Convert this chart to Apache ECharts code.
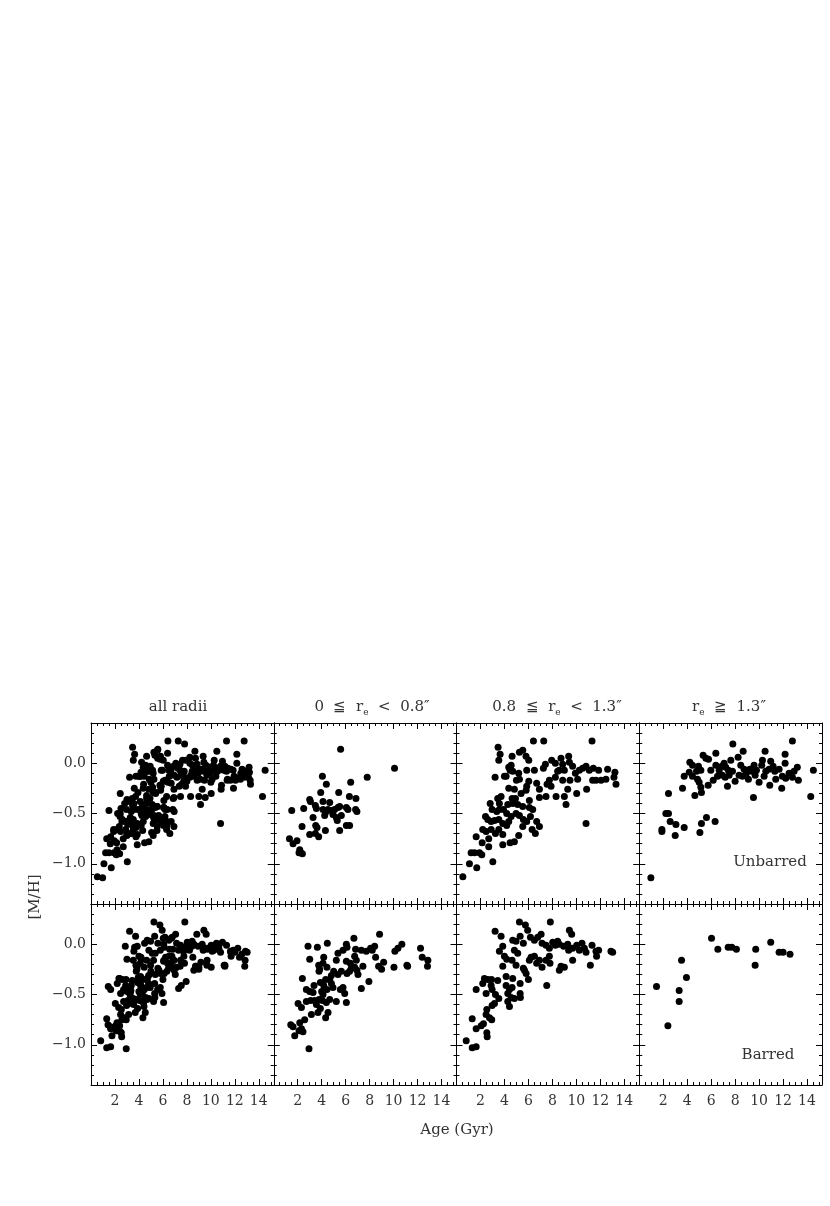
<!DOCTYPE html>
<html>
<head>
<meta charset="utf-8">
<script src="https://cdn.jsdelivr.net/npm/echarts@6/dist/echarts.min.js"></script>
<style>
  html, body { margin: 0; padding: 0; background: #fff; }
  #chart { width: 830px; height: 1206px; }
</style>
</head>
<body>
<div id="chart"></div>
<script>
// [age (Gyr), [M/H]]; "all radii" is the union of the three radial bins
const unbarredSmall = [
  [5.58,0.14],[10.08,-0.05],[7.8,-0.14],[4.06,-0.13],[4.39,-0.21],[6.42,-0.19],[3.92,-0.29],[5.42,-0.29],
  [3.0,-0.36],[3.06,-0.38],[6.31,-0.33],[6.86,-0.35],[4.11,-0.38],[4.67,-0.39],[3.47,-0.42],[3.56,-0.45],
  [1.5,-0.47],[2.5,-0.45],[4.11,-0.46],[4.39,-0.48],[4.53,-0.46],[4.81,-0.47],[5.08,-0.46],[5.36,-0.44],
  [5.5,-0.43],[6.06,-0.44],[6.19,-0.46],[6.83,-0.46],[6.94,-0.48],[4.25,-0.52],[4.94,-0.51],[5.22,-0.54],
  [5.64,-0.52],[3.28,-0.54],[5.3,-0.57],[2.36,-0.63],[3.5,-0.62],[3.61,-0.64],[6.06,-0.62],[6.33,-0.62],
  [4.31,-0.67],[5.5,-0.67],[3.0,-0.71],[3.47,-0.70],[3.75,-0.73],[1.31,-0.75],[1.61,-0.80],[1.94,-0.77],
  [2.17,-0.86],[2.25,-0.89],[2.39,-0.90],[2.11,-0.89]
];
const unbarredMid = [
  [6.42,0.22],[7.28,0.22],[11.31,0.22],[3.47,0.16],[3.64,0.09],[3.53,0.03],[5.25,0.11],[5.53,0.13],
  [5.8,0.07],[6.03,0.03],[4.64,0.07],[4.56,-0.02],[4.36,-0.04],[4.47,-0.07],[4.69,-0.08],[4.0,-0.13],
  [3.22,-0.14],[5.19,-0.10],[5.25,-0.16],[5.86,-0.07],[6.5,-0.07],[7.25,-0.05],[7.42,-0.01],[7.94,0.03],
  [8.25,0.0],[8.72,0.05],[8.86,-0.01],[9.36,0.07],[9.42,0.01],[8.58,-0.07],[8.44,-0.08],[9.0,-0.07],
  [9.69,-0.03],[9.92,-0.10],[10.25,-0.07],[10.53,-0.05],[10.81,-0.03],[11.08,-0.07],[11.42,-0.05],[11.86,-0.07],
  [12.61,-0.06],[13.22,-0.09],[13.14,-0.14],[13.31,-0.21],[12.47,-0.16],[12.06,-0.17],[11.64,-0.17],[11.36,-0.17],
  [10.11,-0.16],[9.47,-0.17],[8.86,-0.17],[8.25,-0.14],[7.75,-0.17],[7.56,-0.21],[7.89,-0.23],[6.92,-0.26],
  [6.03,-0.18],[5.86,-0.23],[5.81,-0.27],[6.69,-0.20],[10.86,-0.26],[10.03,-0.30],[9.28,-0.26],[9.0,-0.33],
  [9.14,-0.41],[8.31,-0.33],[7.47,-0.33],[6.92,-0.34],[6.08,-0.37],[5.39,-0.30],[4.92,-0.35],[4.64,-0.35],
  [3.44,-0.35],[3.58,-0.40],[4.28,-0.41],[4.69,-0.40],[5.11,-0.41],[5.53,-0.43],[6.08,-0.44],[6.36,-0.46],
  [3.92,-0.46],[3.58,-0.46],[3.36,-0.48],[4.19,-0.50],[4.56,-0.53],[4.97,-0.50],[5.25,-0.52],[5.58,-0.56],
  [5.86,-0.58],[6.17,-0.53],[6.69,-0.58],[6.92,-0.63],[10.81,-0.60],[2.42,-0.53],[2.61,-0.56],[2.89,-0.58],
  [3.17,-0.57],[3.53,-0.56],[3.86,-0.60],[4.19,-0.62],[4.36,-0.58],[2.19,-0.66],[2.47,-0.68],[2.89,-0.66],
  [3.25,-0.70],[3.53,-0.66],[3.86,-0.71],[5.53,-0.63],[6.31,-0.66],[6.58,-0.70],[1.64,-0.73],[2.14,-0.79],
  [2.69,-0.75],[2.69,-0.83],[4.47,-0.79],[4.83,-0.78],[5.19,-0.72],[3.86,-0.81],[1.22,-0.89],[1.5,-0.89],
  [1.92,-0.89],[2.11,-0.91],[1.08,-1.00],[1.69,-1.04],[3.03,-0.98],[0.53,-1.13],[2.81,-0.40],[2.97,-0.46],
  [4.36,-0.25],[4.83,-0.26],[3.72,-0.33],[5.0,-0.17],[4.14,-0.13]
];
const unbarredLarge = [
  [12.78,0.22],[7.81,0.19],[10.5,0.12],[8.67,0.12],[12.17,0.09],[6.39,0.10],[5.33,0.08],[5.56,0.05],
  [5.78,0.04],[4.22,0.01],[4.44,-0.02],[4.94,-0.03],[5.14,-0.07],[4.78,-0.08],[4.17,-0.09],[3.75,-0.13],
  [4.44,-0.13],[4.86,-0.16],[5.0,-0.19],[5.14,-0.24],[5.75,-0.22],[6.17,-0.17],[3.61,-0.25],[4.64,-0.32],
  [5.19,-0.29],[2.44,-0.30],[5.97,-0.07],[6.39,-0.02],[6.67,-0.07],[6.89,-0.03],[7.08,0.0],[7.22,-0.04],
  [7.44,-0.07],[6.94,-0.12],[7.17,-0.14],[7.36,-0.23],[7.64,0.03],[7.78,-0.08],[8.0,-0.18],[8.25,0.06],
  [8.47,-0.02],[8.75,-0.06],[8.61,-0.13],[8.94,-0.10],[9.11,-0.16],[9.22,-0.06],[9.39,-0.08],[9.58,-0.02],
  [9.67,-0.12],[9.78,-0.07],[9.53,-0.34],[10.0,-0.19],[10.22,-0.02],[10.28,0.03],[10.42,-0.13],[10.83,-0.06],
  [10.97,0.02],[11.17,-0.03],[11.31,-0.08],[11.39,-0.16],[10.89,-0.22],[11.67,-0.06],[11.94,-0.13],[11.89,-0.25],
  [12.22,-0.15],[12.17,0.0],[12.5,-0.10],[12.92,-0.08],[13.19,-0.04],[13.28,-0.17],[12.78,-0.14],[14.53,-0.07],
  [14.31,-0.33],[2.22,-0.50],[2.44,-0.50],[2.58,-0.58],[3.06,-0.61],[1.89,-0.66],[1.89,-0.68],[3.0,-0.72],
  [3.75,-0.64],[5.06,-0.69],[5.19,-0.60],[5.61,-0.54],[6.33,-0.58],[0.97,-1.14],[6.53,-0.13],[7.5,-0.12],
  [8.33,-0.12],[10.56,-0.08]
];
const barredSmall = [
  [8.83,0.10],[2.86,-0.02],[3.64,-0.03],[4.47,0.01],[6.06,0.0],[6.11,-0.03],[6.69,0.06],[5.78,-0.06],
  [5.36,-0.09],[6.83,-0.05],[7.31,-0.06],[7.72,-0.07],[8.08,-0.04],[8.42,-0.02],[8.22,-0.06],[10.69,0.0],
  [10.36,-0.04],[10.11,-0.07],[12.25,-0.04],[12.39,-0.13],[12.86,-0.16],[12.83,-0.22],[11.11,-0.21],[11.17,-0.22],
  [10.03,-0.23],[8.5,-0.13],[9.17,-0.18],[8.75,-0.22],[9.0,-0.25],[3.0,-0.15],[4.17,-0.13],[3.75,-0.21],
  [3.83,-0.25],[3.78,-0.27],[2.39,-0.34],[2.72,-0.45],[3.0,-0.47],[3.28,-0.48],[3.36,-0.41],[3.89,-0.38],
  [4.17,-0.41],[4.33,-0.35],[4.67,-0.35],[4.81,-0.39],[4.94,-0.43],[4.44,-0.45],[4.0,-0.47],[4.11,-0.50],
  [5.0,-0.27],[5.36,-0.30],[5.64,-0.27],[6.11,-0.29],[6.33,-0.27],[6.47,-0.24],[6.75,-0.23],[6.94,-0.26],
  [7.03,-0.30],[7.44,-0.22],[7.94,-0.37],[7.31,-0.44],[6.06,-0.17],[6.39,-0.19],[6.75,-0.12],[6.89,-0.16],
  [5.56,-0.45],[5.92,-0.49],[6.06,-0.58],[5.22,-0.57],[4.67,-0.55],[4.39,-0.58],[2.03,-0.59],[2.31,-0.63],
  [2.72,-0.57],[3.08,-0.56],[3.42,-0.56],[3.78,-0.55],[4.06,-0.56],[3.56,-0.60],[3.89,-0.64],[3.14,-0.70],
  [3.69,-0.68],[4.53,-0.68],[4.33,-0.73],[1.42,-0.80],[1.61,-0.82],[1.75,-0.91],[2.17,-0.78],[2.31,-0.84],
  [2.44,-0.87],[2.58,-0.75],[2.11,-0.86],[2.94,-1.04],[4.11,-0.19],[4.44,-0.23],[4.81,-0.31],[5.22,-0.16],
  [5.78,-0.43]
];
const barredMid = [
  [5.25,0.22],[7.83,0.22],[5.75,0.19],[5.94,0.14],[3.22,0.13],[3.72,0.08],[9.42,0.14],[9.61,0.10],
  [5.31,0.08],[4.69,0.04],[4.97,0.03],[5.58,0.01],[4.83,-0.06],[5.11,-0.09],[3.86,-0.02],[3.58,-0.07],
  [4.0,-0.12],[4.19,-0.15],[4.64,-0.16],[6.17,0.07],[6.5,0.04],[6.78,0.07],[7.06,0.10],[7.14,0.01],
  [7.47,-0.01],[7.75,-0.04],[8.03,0.02],[8.25,-0.01],[8.44,0.03],[8.58,0.0],[8.94,-0.02],[9.28,0.0],
  [9.36,-0.06],[9.69,-0.04],[10.03,-0.01],[10.25,-0.06],[10.47,0.01],[10.67,-0.04],[10.81,-0.08],[11.31,-0.01],
  [11.64,-0.07],[11.86,-0.06],[11.69,-0.12],[12.89,-0.07],[13.03,-0.08],[11.17,-0.21],[9.69,-0.16],[8.72,-0.22],
  [9.0,-0.23],[8.58,-0.26],[7.8,-0.19],[7.75,-0.12],[7.47,-0.16],[6.92,-0.16],[7.14,-0.23],[6.69,-0.19],
  [6.22,-0.13],[6.08,-0.16],[6.5,-0.12],[5.58,-0.24],[5.67,-0.26],[5.81,-0.29],[6.0,-0.35],[7.53,-0.41],
  [4.14,-0.32],[4.69,-0.34],[2.33,-0.34],[2.61,-0.35],[2.92,-0.35],[3.44,-0.36],[2.19,-0.39],[2.89,-0.41],
  [1.64,-0.45],[2.47,-0.49],[2.97,-0.45],[3.25,-0.50],[3.53,-0.54],[4.14,-0.41],[4.42,-0.45],[4.64,-0.43],
  [4.28,-0.49],[4.56,-0.53],[4.83,-0.54],[5.31,-0.49],[5.31,-0.39],[5.33,-0.53],[4.42,-0.62],[4.28,-0.57],
  [2.97,-0.61],[3.17,-0.59],[2.53,-0.65],[2.47,-0.70],[2.75,-0.73],[2.94,-0.75],[1.31,-0.74],[2.06,-0.81],
  [2.25,-0.79],[1.64,-0.84],[2.53,-0.88],[2.56,-0.92],[0.81,-0.96],[1.31,-1.03],[1.64,-1.02],[3.86,-0.22],
  [4.97,-0.21]
];
const barredLarge = [
  [6.03,0.06],[6.56,-0.05],[7.42,-0.03],[7.72,-0.03],[8.11,-0.05],[9.72,-0.05],[9.67,-0.21],[10.97,0.02],
  [11.67,-0.08],[12.0,-0.08],[12.58,-0.10],[3.53,-0.16],[3.94,-0.33],[1.44,-0.42],[3.33,-0.46],[3.33,-0.57],
  [2.39,-0.81]
];

const rows = [
  [unbarredSmall.concat(unbarredMid, unbarredLarge), unbarredSmall, unbarredMid, unbarredLarge],
  [barredSmall.concat(barredMid, barredLarge), barredSmall, barredMid, barredLarge]
];
const columnTitles = [
  '{t|all radii}',
  '{t|0  \u2266  r}{s|e}{t|  <  0.8\u2033}',
  '{t|0.8  \u2266  r}{s|e}{t|  <  1.3\u2033}',
  '{t|r}{s|e}{t|  \u2267  1.3\u2033}'
];
const rowNotes = ['Unbarred', 'Barred'];
const yMajorTicks = [-1.0, -0.5, 0.0];

const FONT = '"DejaVu Serif", "Liberation Serif", serif';
const INK = '#333';
const gridLeft = 91, gridTop = 723, cellW = 182.75, cellH = 181;

const grids = [], xAxes = [], yAxes = [], series = [];
const line = { show: true, onZero: false, lineStyle: { color: '#000', width: 1 } };
const noLine = { show: false, onZero: false };

rows.forEach((panels, r) => {
  panels.forEach((points, c) => {
    const gi = grids.length;
    grids.push({ left: gridLeft + c * cellW, top: gridTop + r * cellH, width: cellW, height: cellH });
    const xb = { gridIndex: gi, type: 'value', min: 0, max: 15.25, splitLine: { show: false } };
    const yb = { gridIndex: gi, type: 'value', min: -1.4, max: 0.4, splitLine: { show: false } };
    const xMain = xAxes.length;
    ['bottom', 'top'].forEach(pos => {
      // minor ticks every 0.5
      xAxes.push(Object.assign({}, xb, {
        position: pos, interval: 0.5, axisLine: line,
        axisTick: { inside: true, length: 3, lineStyle: { color: '#000' } },
        axisLabel: { show: false }
      }));
      // major ticks every 2, with labels on the bottom row
      xAxes.push(Object.assign({}, xb, {
        position: pos, interval: 2, axisLine: noLine,
        axisTick: { inside: true, length: 6, lineStyle: { color: '#000' } },
        axisLabel: {
          show: pos === 'bottom' && r === 1, margin: 9, color: INK,
          fontFamily: FONT, fontSize: 14, showMaxLabel: false, showMinLabel: false,
          formatter: v => (v > 0.5 && v < 15 ? String(Math.round(v)) : '')
        }
      }));
    });
    const yMain = yAxes.length;
    ['left', 'right'].forEach(pos => {
      yAxes.push(Object.assign({}, yb, {
        position: pos, interval: 0.1, axisLine: line,
        axisTick: { inside: true, length: 3, lineStyle: { color: '#000' } },
        axisLabel: { show: false }
      }));
      yAxes.push(Object.assign({}, yb, {
        position: pos, axisLine: noLine,
        axisTick: { inside: true, length: 6, customValues: yMajorTicks, lineStyle: { color: '#000' } },
        axisLabel: {
          show: pos === 'left' && c === 0, customValues: yMajorTicks, margin: 5,
          color: INK, fontFamily: FONT, fontSize: 14,
          formatter: v => (Math.abs(v) < 1e-9 ? '0.0' : v.toFixed(1).replace('-', '\u2212'))
        }
      }));
    });
    series.push({
      type: 'scatter', xAxisIndex: xMain, yAxisIndex: yMain,
      symbol: 'circle', symbolSize: 7, itemStyle: { color: '#000', opacity: 1 },
      data: points, silent: true
    });
  });
});

const texts = [];
const titleX = [178, 372, 557, 729];
const label = (x, y, text, rot) => ({
  type: 'text', x: x, y: y, rotation: rot || 0,
  style: { text: text, align: 'center', verticalAlign: 'middle', fill: INK, fontFamily: FONT, fontSize: 15 }
});
columnTitles.forEach((t, i) => {
  const el = label(titleX[i], 707, t);
  el.style.rich = {
    t: { fontFamily: FONT, fontSize: 15, lineHeight: 20, fill: INK },
    s: { fontFamily: FONT, fontSize: 9, lineHeight: 9, verticalAlign: 'bottom', fill: INK }
  };
  texts.push(el);
});
texts.push(label(770, 862, rowNotes[0]));
texts.push(label(768, 1055, rowNotes[1]));
texts.push(label(457, 1130, 'Age (Gyr)'));
texts.push(label(35, 897, '[M/H]', Math.PI / 2));

const chart = echarts.init(document.getElementById('chart'));
chart.setOption({
  animation: false,
  backgroundColor: '#fff',
  grid: grids,
  xAxis: xAxes,
  yAxis: yAxes,
  series: series,
  graphic: texts
});
</script>
</body>
</html>
